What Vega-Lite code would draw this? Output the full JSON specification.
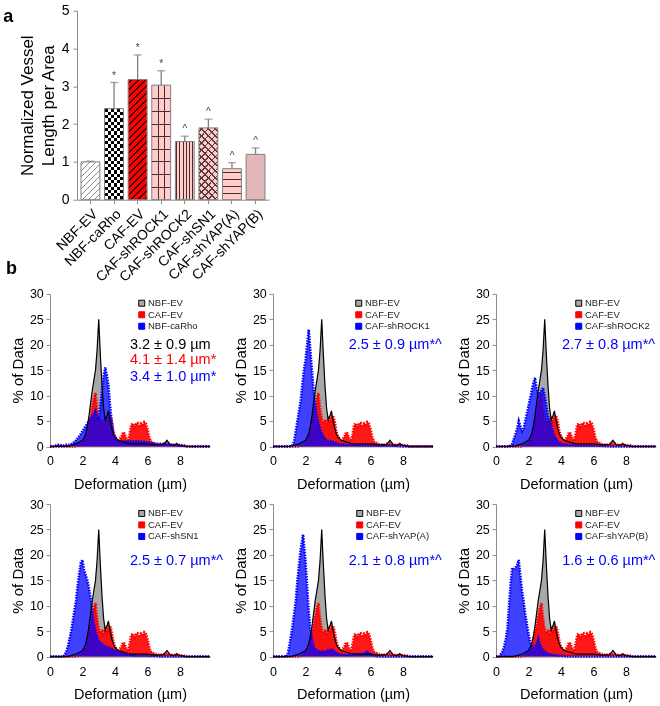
{
"$schema":"https://vega.github.io/schema/vega-lite/v6.json",
"padding":{"left":3,"top":3.7,"right":2,"bottom":0},
"background":"white",
"config":{"font":"Liberation Sans","view":{"stroke":null},"axis":{"grid":false,"labelOverlap":false,"domainColor":"#8c8c8c","tickColor":"#8c8c8c","labelColor":"#000000","titleColor":"#000000","titleFontWeight":"normal"}},
"datasets":{
"bars":[{"g":"NBF-EV","v":1.0,"hi":1.02,"s":""},{"g":"NBF-caRho","v":2.41,"hi":3.1,"s":"*"},{"g":"CAF-EV","v":3.18,"hi":3.83,"s":"*"},{"g":"CAF-shROCK1","v":3.03,"hi":3.41,"s":"*"},{"g":"CAF-shROCK2","v":1.54,"hi":1.68,"s":"^"},{"g":"CAF-shSN1","v":1.9,"hi":2.13,"s":"^"},{"g":"CAF-shYAP(A)","v":0.82,"hi":0.98,"s":"^"},{"g":"CAF-shYAP(B)","v":1.2,"hi":1.37,"s":"^"}],
"nbf":[{"x":0,"y":0},{"x":1,"y":0},{"x":1.2,"y":0.1},{"x":1.4,"y":0.3},{"x":1.6,"y":0.5},{"x":1.8,"y":0.8},{"x":2,"y":1.2},{"x":2.1,"y":1.8},{"x":2.2,"y":2.5},{"x":2.3,"y":4},{"x":2.4,"y":6},{"x":2.5,"y":8.5},{"x":2.6,"y":11},{"x":2.7,"y":13},{"x":2.8,"y":15},{"x":2.9,"y":19},{"x":3,"y":25},{"x":3.1,"y":18},{"x":3.2,"y":12},{"x":3.3,"y":7.5},{"x":3.4,"y":5.2},{"x":3.5,"y":6},{"x":3.6,"y":7},{"x":3.7,"y":5},{"x":3.8,"y":3.5},{"x":3.9,"y":2.5},{"x":4,"y":1.8},{"x":4.2,"y":1.2},{"x":4.4,"y":1},{"x":4.6,"y":0.8},{"x":4.8,"y":0.6},{"x":5,"y":0.5},{"x":5.5,"y":0.5},{"x":6,"y":0.5},{"x":6.5,"y":0.3},{"x":7,"y":0.4},{"x":7.2,"y":1.2},{"x":7.4,"y":0.3},{"x":7.6,"y":0.2},{"x":7.8,"y":0.5},{"x":8,"y":0.2},{"x":8.4,"y":0},{"x":9.85,"y":0}],
"caf":[{"x":0,"y":0},{"x":1.6,"y":0},{"x":1.8,"y":0.3},{"x":2,"y":0.8},{"x":2.1,"y":1.2},{"x":2.2,"y":2},{"x":2.3,"y":3.5},{"x":2.4,"y":5},{"x":2.5,"y":6},{"x":2.6,"y":8},{"x":2.7,"y":9.5},{"x":2.8,"y":10.5},{"x":2.9,"y":7.5},{"x":3,"y":5.5},{"x":3.1,"y":4.5},{"x":3.2,"y":5},{"x":3.3,"y":4.5},{"x":3.4,"y":5.5},{"x":3.5,"y":5},{"x":3.6,"y":6},{"x":3.7,"y":6},{"x":3.8,"y":5},{"x":3.9,"y":3},{"x":4,"y":2},{"x":4.1,"y":1.5},{"x":4.2,"y":1},{"x":4.3,"y":1.5},{"x":4.4,"y":2},{"x":4.5,"y":2.8},{"x":4.6,"y":2.5},{"x":4.7,"y":1.5},{"x":4.8,"y":1},{"x":4.9,"y":2.5},{"x":5,"y":4.3},{"x":5.1,"y":4.5},{"x":5.2,"y":3.8},{"x":5.3,"y":4.5},{"x":5.4,"y":4.6},{"x":5.5,"y":3.8},{"x":5.6,"y":4.5},{"x":5.7,"y":4.2},{"x":5.8,"y":4.8},{"x":5.9,"y":4.5},{"x":6,"y":3.5},{"x":6.1,"y":2},{"x":6.2,"y":1},{"x":6.3,"y":0.8},{"x":6.5,"y":0.5},{"x":6.8,"y":0.3},{"x":7,"y":0.5},{"x":7.2,"y":0.5},{"x":7.4,"y":0.5},{"x":7.6,"y":0.2},{"x":7.8,"y":0.5},{"x":8,"y":0.2},{"x":8.2,"y":0.3},{"x":8.4,"y":0},{"x":9.85,"y":0}],
"var":[
{"n":"NBF-caRho","x":0,"y":0},{"n":"NBF-caRho","x":0.3,"y":0},{"n":"NBF-caRho","x":0.4,"y":0.3},{"n":"NBF-caRho","x":0.6,"y":0.3},{"n":"NBF-caRho","x":0.8,"y":0.2},{"n":"NBF-caRho","x":1,"y":0.3},{"n":"NBF-caRho","x":1.2,"y":0.3},{"n":"NBF-caRho","x":1.4,"y":0.6},{"n":"NBF-caRho","x":1.6,"y":1.2},{"n":"NBF-caRho","x":1.8,"y":2},{"n":"NBF-caRho","x":2,"y":3},{"n":"NBF-caRho","x":2.2,"y":4},{"n":"NBF-caRho","x":2.4,"y":5},{"n":"NBF-caRho","x":2.6,"y":6},{"n":"NBF-caRho","x":2.8,"y":7},{"n":"NBF-caRho","x":2.9,"y":6},{"n":"NBF-caRho","x":3,"y":5},{"n":"NBF-caRho","x":3.1,"y":8},{"n":"NBF-caRho","x":3.2,"y":11},{"n":"NBF-caRho","x":3.3,"y":14},{"n":"NBF-caRho","x":3.4,"y":15.5},{"n":"NBF-caRho","x":3.5,"y":14},{"n":"NBF-caRho","x":3.6,"y":12},{"n":"NBF-caRho","x":3.7,"y":8},{"n":"NBF-caRho","x":3.8,"y":5},{"n":"NBF-caRho","x":3.9,"y":2.5},{"n":"NBF-caRho","x":4,"y":1.5},{"n":"NBF-caRho","x":4.2,"y":1},{"n":"NBF-caRho","x":4.5,"y":1},{"n":"NBF-caRho","x":5,"y":1},{"n":"NBF-caRho","x":5.5,"y":1},{"n":"NBF-caRho","x":6,"y":0.8},{"n":"NBF-caRho","x":6.5,"y":0.5},{"n":"NBF-caRho","x":7,"y":0.5},{"n":"NBF-caRho","x":7.5,"y":0.3},{"n":"NBF-caRho","x":8,"y":0.2},{"n":"NBF-caRho","x":8.5,"y":0},{"n":"NBF-caRho","x":9.85,"y":0},
{"n":"CAF-shROCK1","x":0,"y":0},{"n":"CAF-shROCK1","x":1,"y":0},{"n":"CAF-shROCK1","x":1.2,"y":0.3},{"n":"CAF-shROCK1","x":1.3,"y":1},{"n":"CAF-shROCK1","x":1.4,"y":3},{"n":"CAF-shROCK1","x":1.5,"y":5},{"n":"CAF-shROCK1","x":1.6,"y":7},{"n":"CAF-shROCK1","x":1.7,"y":9},{"n":"CAF-shROCK1","x":1.8,"y":12},{"n":"CAF-shROCK1","x":1.9,"y":15},{"n":"CAF-shROCK1","x":2,"y":17},{"n":"CAF-shROCK1","x":2.1,"y":20},{"n":"CAF-shROCK1","x":2.2,"y":23},{"n":"CAF-shROCK1","x":2.3,"y":19},{"n":"CAF-shROCK1","x":2.4,"y":15},{"n":"CAF-shROCK1","x":2.5,"y":11},{"n":"CAF-shROCK1","x":2.6,"y":8},{"n":"CAF-shROCK1","x":2.7,"y":6},{"n":"CAF-shROCK1","x":2.8,"y":4.5},{"n":"CAF-shROCK1","x":2.9,"y":3.5},{"n":"CAF-shROCK1","x":3,"y":2.5},{"n":"CAF-shROCK1","x":3.2,"y":1.5},{"n":"CAF-shROCK1","x":3.4,"y":1},{"n":"CAF-shROCK1","x":3.6,"y":1},{"n":"CAF-shROCK1","x":3.8,"y":0.8},{"n":"CAF-shROCK1","x":4,"y":0.5},{"n":"CAF-shROCK1","x":4.5,"y":0.3},{"n":"CAF-shROCK1","x":5,"y":0.3},{"n":"CAF-shROCK1","x":6,"y":0.2},{"n":"CAF-shROCK1","x":7,"y":0.2},{"n":"CAF-shROCK1","x":8,"y":0},{"n":"CAF-shROCK1","x":9.85,"y":0},
{"n":"CAF-shROCK2","x":0,"y":0},{"n":"CAF-shROCK2","x":0.8,"y":0},{"n":"CAF-shROCK2","x":1,"y":0.5},{"n":"CAF-shROCK2","x":1.1,"y":1.5},{"n":"CAF-shROCK2","x":1.2,"y":2.5},{"n":"CAF-shROCK2","x":1.3,"y":3.5},{"n":"CAF-shROCK2","x":1.4,"y":5},{"n":"CAF-shROCK2","x":1.5,"y":4},{"n":"CAF-shROCK2","x":1.6,"y":3},{"n":"CAF-shROCK2","x":1.7,"y":3.5},{"n":"CAF-shROCK2","x":1.8,"y":5},{"n":"CAF-shROCK2","x":1.9,"y":6.5},{"n":"CAF-shROCK2","x":2,"y":8},{"n":"CAF-shROCK2","x":2.1,"y":9.5},{"n":"CAF-shROCK2","x":2.2,"y":11},{"n":"CAF-shROCK2","x":2.3,"y":12.5},{"n":"CAF-shROCK2","x":2.4,"y":13.5},{"n":"CAF-shROCK2","x":2.5,"y":11.5},{"n":"CAF-shROCK2","x":2.6,"y":10},{"n":"CAF-shROCK2","x":2.7,"y":10.5},{"n":"CAF-shROCK2","x":2.8,"y":11},{"n":"CAF-shROCK2","x":2.9,"y":11.5},{"n":"CAF-shROCK2","x":3,"y":10},{"n":"CAF-shROCK2","x":3.1,"y":8},{"n":"CAF-shROCK2","x":3.2,"y":6},{"n":"CAF-shROCK2","x":3.3,"y":5},{"n":"CAF-shROCK2","x":3.4,"y":4.5},{"n":"CAF-shROCK2","x":3.5,"y":3},{"n":"CAF-shROCK2","x":3.6,"y":2},{"n":"CAF-shROCK2","x":3.8,"y":1},{"n":"CAF-shROCK2","x":4,"y":0.5},{"n":"CAF-shROCK2","x":4.5,"y":0.3},{"n":"CAF-shROCK2","x":5,"y":0.2},{"n":"CAF-shROCK2","x":6,"y":0.2},{"n":"CAF-shROCK2","x":7,"y":0},{"n":"CAF-shROCK2","x":9.85,"y":0},
{"n":"CAF-shSN1","x":0,"y":0},{"n":"CAF-shSN1","x":0.8,"y":0},{"n":"CAF-shSN1","x":0.9,"y":0.3},{"n":"CAF-shSN1","x":1,"y":1},{"n":"CAF-shSN1","x":1.1,"y":2},{"n":"CAF-shSN1","x":1.2,"y":3.5},{"n":"CAF-shSN1","x":1.3,"y":5},{"n":"CAF-shSN1","x":1.4,"y":7},{"n":"CAF-shSN1","x":1.5,"y":9},{"n":"CAF-shSN1","x":1.6,"y":11},{"n":"CAF-shSN1","x":1.7,"y":14},{"n":"CAF-shSN1","x":1.8,"y":16.5},{"n":"CAF-shSN1","x":1.9,"y":18.5},{"n":"CAF-shSN1","x":2,"y":19},{"n":"CAF-shSN1","x":2.1,"y":17},{"n":"CAF-shSN1","x":2.2,"y":16},{"n":"CAF-shSN1","x":2.3,"y":15},{"n":"CAF-shSN1","x":2.4,"y":13.5},{"n":"CAF-shSN1","x":2.5,"y":11.5},{"n":"CAF-shSN1","x":2.6,"y":9},{"n":"CAF-shSN1","x":2.7,"y":6.5},{"n":"CAF-shSN1","x":2.8,"y":5},{"n":"CAF-shSN1","x":2.9,"y":4},{"n":"CAF-shSN1","x":3,"y":3},{"n":"CAF-shSN1","x":3.2,"y":2.5},{"n":"CAF-shSN1","x":3.4,"y":2},{"n":"CAF-shSN1","x":3.6,"y":1.8},{"n":"CAF-shSN1","x":3.8,"y":1.5},{"n":"CAF-shSN1","x":4,"y":1.2},{"n":"CAF-shSN1","x":4.2,"y":1},{"n":"CAF-shSN1","x":4.4,"y":0.7},{"n":"CAF-shSN1","x":4.6,"y":0.5},{"n":"CAF-shSN1","x":5,"y":0.3},{"n":"CAF-shSN1","x":5.5,"y":0.2},{"n":"CAF-shSN1","x":6,"y":0.2},{"n":"CAF-shSN1","x":7,"y":0},{"n":"CAF-shSN1","x":9.85,"y":0},
{"n":"CAF-shYAP(A)","x":0,"y":0},{"n":"CAF-shYAP(A)","x":0.8,"y":0},{"n":"CAF-shYAP(A)","x":0.9,"y":0.5},{"n":"CAF-shYAP(A)","x":1,"y":2},{"n":"CAF-shYAP(A)","x":1.1,"y":4},{"n":"CAF-shYAP(A)","x":1.2,"y":6},{"n":"CAF-shYAP(A)","x":1.3,"y":8.5},{"n":"CAF-shYAP(A)","x":1.4,"y":11},{"n":"CAF-shYAP(A)","x":1.5,"y":15},{"n":"CAF-shYAP(A)","x":1.6,"y":18},{"n":"CAF-shYAP(A)","x":1.7,"y":21},{"n":"CAF-shYAP(A)","x":1.8,"y":23},{"n":"CAF-shYAP(A)","x":1.85,"y":24},{"n":"CAF-shYAP(A)","x":1.9,"y":22.5},{"n":"CAF-shYAP(A)","x":2,"y":19},{"n":"CAF-shYAP(A)","x":2.1,"y":14},{"n":"CAF-shYAP(A)","x":2.2,"y":9},{"n":"CAF-shYAP(A)","x":2.3,"y":5.5},{"n":"CAF-shYAP(A)","x":2.4,"y":3.5},{"n":"CAF-shYAP(A)","x":2.5,"y":2},{"n":"CAF-shYAP(A)","x":2.6,"y":1.5},{"n":"CAF-shYAP(A)","x":2.8,"y":1},{"n":"CAF-shYAP(A)","x":3,"y":1},{"n":"CAF-shYAP(A)","x":3.2,"y":1},{"n":"CAF-shYAP(A)","x":3.4,"y":1.2},{"n":"CAF-shYAP(A)","x":3.6,"y":1.5},{"n":"CAF-shYAP(A)","x":3.8,"y":1},{"n":"CAF-shYAP(A)","x":4,"y":0.5},{"n":"CAF-shYAP(A)","x":4.5,"y":0.3},{"n":"CAF-shYAP(A)","x":5,"y":0.5},{"n":"CAF-shYAP(A)","x":5.5,"y":0.5},{"n":"CAF-shYAP(A)","x":5.8,"y":1},{"n":"CAF-shYAP(A)","x":6,"y":0.5},{"n":"CAF-shYAP(A)","x":6.2,"y":0.3},{"n":"CAF-shYAP(A)","x":6.5,"y":0},{"n":"CAF-shYAP(A)","x":9.85,"y":0},
{"n":"CAF-shYAP(B)","x":0,"y":0},{"n":"CAF-shYAP(B)","x":0.2,"y":0},{"n":"CAF-shYAP(B)","x":0.3,"y":0.5},{"n":"CAF-shYAP(B)","x":0.4,"y":1},{"n":"CAF-shYAP(B)","x":0.5,"y":2},{"n":"CAF-shYAP(B)","x":0.6,"y":3.5},{"n":"CAF-shYAP(B)","x":0.7,"y":5.5},{"n":"CAF-shYAP(B)","x":0.8,"y":10},{"n":"CAF-shYAP(B)","x":0.9,"y":14.5},{"n":"CAF-shYAP(B)","x":1,"y":17.5},{"n":"CAF-shYAP(B)","x":1.1,"y":17},{"n":"CAF-shYAP(B)","x":1.2,"y":17.5},{"n":"CAF-shYAP(B)","x":1.3,"y":18},{"n":"CAF-shYAP(B)","x":1.4,"y":19},{"n":"CAF-shYAP(B)","x":1.5,"y":16},{"n":"CAF-shYAP(B)","x":1.6,"y":13},{"n":"CAF-shYAP(B)","x":1.7,"y":11},{"n":"CAF-shYAP(B)","x":1.8,"y":8.5},{"n":"CAF-shYAP(B)","x":1.9,"y":6.5},{"n":"CAF-shYAP(B)","x":2,"y":4.5},{"n":"CAF-shYAP(B)","x":2.1,"y":3},{"n":"CAF-shYAP(B)","x":2.2,"y":2},{"n":"CAF-shYAP(B)","x":2.3,"y":1.8},{"n":"CAF-shYAP(B)","x":2.4,"y":2},{"n":"CAF-shYAP(B)","x":2.5,"y":2.5},{"n":"CAF-shYAP(B)","x":2.6,"y":3.5},{"n":"CAF-shYAP(B)","x":2.7,"y":2.5},{"n":"CAF-shYAP(B)","x":2.8,"y":1.8},{"n":"CAF-shYAP(B)","x":2.9,"y":1.2},{"n":"CAF-shYAP(B)","x":3,"y":1},{"n":"CAF-shYAP(B)","x":3.2,"y":0.6},{"n":"CAF-shYAP(B)","x":3.4,"y":0.4},{"n":"CAF-shYAP(B)","x":3.6,"y":0.3},{"n":"CAF-shYAP(B)","x":4,"y":0.2},{"n":"CAF-shYAP(B)","x":4.5,"y":0},{"n":"CAF-shYAP(B)","x":9.85,"y":0}
]},
"bounds":"flush",
"align":"each",
"columns":3,
"spacing":{"row":57.2,"column":63},
"resolve":{"scale":{"fill":"independent"},"legend":{"fill":"independent"}},
"concat":[
 {"width":160,"height":189,
  "title":{"text":"a","anchor":"start","frame":"group","dx":-46.7,"dy":22.6,"offset":0,"fontSize":18,"fontWeight":"bold","color":"#000000"},
  "data":{"name":"bars"},
  "encoding":{"x":{"field":"g","type":"nominal","sort":null,"scale":{"range":[27,219],"paddingInner":0.2,"paddingOuter":0.17},"axis":{"title":null,"labelAngle":-45,"labelFontSize":14,"tickSize":4,"labelPadding":3,"labelOverlap":false}}},
  "layer":[
   {"mark":{"type":"bar","strokeWidth":0},"encoding":{"y":{"field":"v","type":"quantitative","scale":{"domain":[0,5],"nice":false},"axis":{"offset":-27,"values":[0,1,2,3,4,5],"format":"d","tickCount":12,"labelOverlap":false,"title":["Normalized Vessel","Length per Area"],"titleFontSize":17,"titleLineHeight":21,"labelFontSize":14,"tickSize":4,"labelPadding":4,"titlePadding":4}},
    "fill":{"condition":[
     {"test":"datum.g === 'NBF-EV'","value":{"gradient":"linear","x1":0,"y1":0,"x2":0.605,"y2":1.2,"stops":[{"offset":0,"color":"#ffffff"},{"offset":0.0409,"color":"#ffffff"},{"offset":0.0409,"color":"#8c8c8c"},{"offset":0.0649,"color":"#8c8c8c"},{"offset":0.0649,"color":"#ffffff"},{"offset":0.1467,"color":"#ffffff"},{"offset":0.1467,"color":"#8c8c8c"},{"offset":0.1707,"color":"#8c8c8c"},{"offset":0.1707,"color":"#ffffff"},{"offset":0.2526,"color":"#ffffff"},{"offset":0.2526,"color":"#8c8c8c"},{"offset":0.2766,"color":"#8c8c8c"},{"offset":0.2766,"color":"#ffffff"},{"offset":0.3584,"color":"#ffffff"},{"offset":0.3584,"color":"#8c8c8c"},{"offset":0.3824,"color":"#8c8c8c"},{"offset":0.3824,"color":"#ffffff"},{"offset":0.4642,"color":"#ffffff"},{"offset":0.4642,"color":"#8c8c8c"},{"offset":0.4882,"color":"#8c8c8c"},{"offset":0.4882,"color":"#ffffff"},{"offset":0.57,"color":"#ffffff"},{"offset":0.57,"color":"#8c8c8c"},{"offset":0.594,"color":"#8c8c8c"},{"offset":0.594,"color":"#ffffff"},{"offset":0.6758,"color":"#ffffff"},{"offset":0.6758,"color":"#8c8c8c"},{"offset":0.6998,"color":"#8c8c8c"},{"offset":0.6998,"color":"#ffffff"},{"offset":0.7817,"color":"#ffffff"},{"offset":0.7817,"color":"#8c8c8c"},{"offset":0.8057,"color":"#8c8c8c"},{"offset":0.8057,"color":"#ffffff"},{"offset":0.8875,"color":"#ffffff"},{"offset":0.8875,"color":"#8c8c8c"},{"offset":0.9115,"color":"#8c8c8c"},{"offset":0.9115,"color":"#ffffff"},{"offset":1,"color":"#ffffff"}]}},
     {"test":"datum.g === 'NBF-caRho'","value":{"gradient":"linear","x1":0,"y1":0,"x2":1,"y2":0,"stops":[{"offset":0,"color":"#000000"},{"offset":0.1667,"color":"#000000"},{"offset":0.1667,"color":"#ffffff"},{"offset":0.3333,"color":"#ffffff"},{"offset":0.3333,"color":"#000000"},{"offset":0.5,"color":"#000000"},{"offset":0.5,"color":"#ffffff"},{"offset":0.6667,"color":"#ffffff"},{"offset":0.6667,"color":"#000000"},{"offset":0.8333,"color":"#000000"},{"offset":0.8333,"color":"#ffffff"},{"offset":1,"color":"#ffffff"}]}},
     {"test":"datum.g === 'CAF-EV'","value":{"gradient":"linear","x1":0,"y1":0,"x2":0.179,"y2":1.13,"stops":[{"offset":0,"color":"#ff0000"},{"offset":0.018,"color":"#ff0000"},{"offset":0.018,"color":"#300000"},{"offset":0.032,"color":"#300000"},{"offset":0.032,"color":"#ff0000"},{"offset":0.068,"color":"#ff0000"},{"offset":0.068,"color":"#300000"},{"offset":0.083,"color":"#300000"},{"offset":0.083,"color":"#ff0000"},{"offset":0.119,"color":"#ff0000"},{"offset":0.119,"color":"#300000"},{"offset":0.133,"color":"#300000"},{"offset":0.133,"color":"#ff0000"},{"offset":0.169,"color":"#ff0000"},{"offset":0.169,"color":"#300000"},{"offset":0.184,"color":"#300000"},{"offset":0.184,"color":"#ff0000"},{"offset":0.219,"color":"#ff0000"},{"offset":0.219,"color":"#300000"},{"offset":0.234,"color":"#300000"},{"offset":0.234,"color":"#ff0000"},{"offset":0.27,"color":"#ff0000"},{"offset":0.27,"color":"#300000"},{"offset":0.284,"color":"#300000"},{"offset":0.284,"color":"#ff0000"},{"offset":0.32,"color":"#ff0000"},{"offset":0.32,"color":"#300000"},{"offset":0.335,"color":"#300000"},{"offset":0.335,"color":"#ff0000"},{"offset":0.371,"color":"#ff0000"},{"offset":0.371,"color":"#300000"},{"offset":0.385,"color":"#300000"},{"offset":0.385,"color":"#ff0000"},{"offset":0.421,"color":"#ff0000"},{"offset":0.421,"color":"#300000"},{"offset":0.435,"color":"#300000"},{"offset":0.435,"color":"#ff0000"},{"offset":0.471,"color":"#ff0000"},{"offset":0.471,"color":"#300000"},{"offset":0.486,"color":"#300000"},{"offset":0.486,"color":"#ff0000"},{"offset":0.522,"color":"#ff0000"},{"offset":0.522,"color":"#300000"},{"offset":0.536,"color":"#300000"},{"offset":0.536,"color":"#ff0000"},{"offset":0.572,"color":"#ff0000"},{"offset":0.572,"color":"#300000"},{"offset":0.586,"color":"#300000"},{"offset":0.586,"color":"#ff0000"},{"offset":0.622,"color":"#ff0000"},{"offset":0.622,"color":"#300000"},{"offset":0.637,"color":"#300000"},{"offset":0.637,"color":"#ff0000"},{"offset":0.673,"color":"#ff0000"},{"offset":0.673,"color":"#300000"},{"offset":0.687,"color":"#300000"},{"offset":0.687,"color":"#ff0000"},{"offset":0.723,"color":"#ff0000"},{"offset":0.723,"color":"#300000"},{"offset":0.737,"color":"#300000"},{"offset":0.737,"color":"#ff0000"},{"offset":0.773,"color":"#ff0000"},{"offset":0.773,"color":"#300000"},{"offset":0.788,"color":"#300000"},{"offset":0.788,"color":"#ff0000"},{"offset":0.824,"color":"#ff0000"},{"offset":0.824,"color":"#300000"},{"offset":0.838,"color":"#300000"},{"offset":0.838,"color":"#ff0000"},{"offset":0.874,"color":"#ff0000"},{"offset":0.874,"color":"#300000"},{"offset":0.889,"color":"#300000"},{"offset":0.889,"color":"#ff0000"},{"offset":0.924,"color":"#ff0000"},{"offset":0.924,"color":"#300000"},{"offset":0.939,"color":"#300000"},{"offset":0.939,"color":"#ff0000"},{"offset":0.975,"color":"#ff0000"},{"offset":0.975,"color":"#300000"},{"offset":0.989,"color":"#300000"},{"offset":0.989,"color":"#ff0000"},{"offset":1,"color":"#ff0000"}]}},
     {"test":"datum.g === 'CAF-shROCK1'","value":{"gradient":"linear","x1":0,"y1":0,"x2":0,"y2":1,"stops":[{"offset":0,"color":"#ffcccc"},{"offset":0.115,"color":"#ffcccc"},{"offset":0.115,"color":"#4d2b2b"},{"offset":0.125,"color":"#4d2b2b"},{"offset":0.125,"color":"#ffcccc"},{"offset":0.225,"color":"#ffcccc"},{"offset":0.225,"color":"#4d2b2b"},{"offset":0.235,"color":"#4d2b2b"},{"offset":0.235,"color":"#ffcccc"},{"offset":0.335,"color":"#ffcccc"},{"offset":0.335,"color":"#4d2b2b"},{"offset":0.345,"color":"#4d2b2b"},{"offset":0.345,"color":"#ffcccc"},{"offset":0.445,"color":"#ffcccc"},{"offset":0.445,"color":"#4d2b2b"},{"offset":0.455,"color":"#4d2b2b"},{"offset":0.455,"color":"#ffcccc"},{"offset":0.555,"color":"#ffcccc"},{"offset":0.555,"color":"#4d2b2b"},{"offset":0.565,"color":"#4d2b2b"},{"offset":0.565,"color":"#ffcccc"},{"offset":0.665,"color":"#ffcccc"},{"offset":0.665,"color":"#4d2b2b"},{"offset":0.675,"color":"#4d2b2b"},{"offset":0.675,"color":"#ffcccc"},{"offset":0.775,"color":"#ffcccc"},{"offset":0.775,"color":"#4d2b2b"},{"offset":0.785,"color":"#4d2b2b"},{"offset":0.785,"color":"#ffcccc"},{"offset":0.885,"color":"#ffcccc"},{"offset":0.885,"color":"#4d2b2b"},{"offset":0.895,"color":"#4d2b2b"},{"offset":0.895,"color":"#ffcccc"},{"offset":1,"color":"#ffcccc"}]}},
     {"test":"datum.g === 'CAF-shROCK2'","value":{"gradient":"linear","x1":0,"y1":0,"x2":1,"y2":0,"stops":[{"offset":0,"color":"#ffcccc"},{"offset":0.048,"color":"#ffcccc"},{"offset":0.048,"color":"#4d2b2b"},{"offset":0.092,"color":"#4d2b2b"},{"offset":0.092,"color":"#ffcccc"},{"offset":0.218,"color":"#ffcccc"},{"offset":0.218,"color":"#4d2b2b"},{"offset":0.262,"color":"#4d2b2b"},{"offset":0.262,"color":"#ffcccc"},{"offset":0.388,"color":"#ffcccc"},{"offset":0.388,"color":"#4d2b2b"},{"offset":0.432,"color":"#4d2b2b"},{"offset":0.432,"color":"#ffcccc"},{"offset":0.558,"color":"#ffcccc"},{"offset":0.558,"color":"#4d2b2b"},{"offset":0.602,"color":"#4d2b2b"},{"offset":0.602,"color":"#ffcccc"},{"offset":0.728,"color":"#ffcccc"},{"offset":0.728,"color":"#4d2b2b"},{"offset":0.772,"color":"#4d2b2b"},{"offset":0.772,"color":"#ffcccc"},{"offset":0.898,"color":"#ffcccc"},{"offset":0.898,"color":"#4d2b2b"},{"offset":0.942,"color":"#4d2b2b"},{"offset":0.942,"color":"#ffcccc"},{"offset":1,"color":"#ffcccc"}]}},
     {"test":"datum.g === 'CAF-shSN1'","value":{"gradient":"linear","x1":0,"y1":0,"x2":0.314,"y2":1.18,"stops":[{"offset":0,"color":"#ffcccc"},{"offset":0.0306,"color":"#ffcccc"},{"offset":0.0306,"color":"#5a3a3a"},{"offset":0.0466,"color":"#5a3a3a"},{"offset":0.0466,"color":"#ffcccc"},{"offset":0.1079,"color":"#ffcccc"},{"offset":0.1079,"color":"#5a3a3a"},{"offset":0.1239,"color":"#5a3a3a"},{"offset":0.1239,"color":"#ffcccc"},{"offset":0.1852,"color":"#ffcccc"},{"offset":0.1852,"color":"#5a3a3a"},{"offset":0.2012,"color":"#5a3a3a"},{"offset":0.2012,"color":"#ffcccc"},{"offset":0.2624,"color":"#ffcccc"},{"offset":0.2624,"color":"#5a3a3a"},{"offset":0.2784,"color":"#5a3a3a"},{"offset":0.2784,"color":"#ffcccc"},{"offset":0.3397,"color":"#ffcccc"},{"offset":0.3397,"color":"#5a3a3a"},{"offset":0.3557,"color":"#5a3a3a"},{"offset":0.3557,"color":"#ffcccc"},{"offset":0.417,"color":"#ffcccc"},{"offset":0.417,"color":"#5a3a3a"},{"offset":0.433,"color":"#5a3a3a"},{"offset":0.433,"color":"#ffcccc"},{"offset":0.4942,"color":"#ffcccc"},{"offset":0.4942,"color":"#5a3a3a"},{"offset":0.5102,"color":"#5a3a3a"},{"offset":0.5102,"color":"#ffcccc"},{"offset":0.5715,"color":"#ffcccc"},{"offset":0.5715,"color":"#5a3a3a"},{"offset":0.5875,"color":"#5a3a3a"},{"offset":0.5875,"color":"#ffcccc"},{"offset":0.6487,"color":"#ffcccc"},{"offset":0.6487,"color":"#5a3a3a"},{"offset":0.6647,"color":"#5a3a3a"},{"offset":0.6647,"color":"#ffcccc"},{"offset":0.726,"color":"#ffcccc"},{"offset":0.726,"color":"#5a3a3a"},{"offset":0.742,"color":"#5a3a3a"},{"offset":0.742,"color":"#ffcccc"},{"offset":0.8033,"color":"#ffcccc"},{"offset":0.8033,"color":"#5a3a3a"},{"offset":0.8193,"color":"#5a3a3a"},{"offset":0.8193,"color":"#ffcccc"},{"offset":0.8805,"color":"#ffcccc"},{"offset":0.8805,"color":"#5a3a3a"},{"offset":0.8965,"color":"#5a3a3a"},{"offset":0.8965,"color":"#ffcccc"},{"offset":0.9578,"color":"#ffcccc"},{"offset":0.9578,"color":"#5a3a3a"},{"offset":0.9738,"color":"#5a3a3a"},{"offset":0.9738,"color":"#ffcccc"},{"offset":1,"color":"#ffcccc"}]}},
     {"test":"datum.g === 'CAF-shYAP(A)'","value":{"gradient":"linear","x1":0,"y1":0,"x2":0,"y2":1,"stops":[{"offset":0,"color":"#ffcccc"},{"offset":0.114,"color":"#ffcccc"},{"offset":0.114,"color":"#4d2b2b"},{"offset":0.146,"color":"#4d2b2b"},{"offset":0.146,"color":"#ffcccc"},{"offset":0.324,"color":"#ffcccc"},{"offset":0.324,"color":"#4d2b2b"},{"offset":0.356,"color":"#4d2b2b"},{"offset":0.356,"color":"#ffcccc"},{"offset":0.544,"color":"#ffcccc"},{"offset":0.544,"color":"#4d2b2b"},{"offset":0.576,"color":"#4d2b2b"},{"offset":0.576,"color":"#ffcccc"},{"offset":0.784,"color":"#ffcccc"},{"offset":0.784,"color":"#4d2b2b"},{"offset":0.816,"color":"#4d2b2b"},{"offset":0.816,"color":"#ffcccc"},{"offset":1,"color":"#ffcccc"}]}},
     {"test":"datum.g === 'CAF-shYAP(B)'","value":"#e3b6ba"}
    ],"value":"#ffcccc"}}},
   {"transform":[{"filter":"datum.g === 'NBF-caRho'"}],"mark":{"type":"bar","strokeWidth":0,"blend":"difference"},"encoding":{"y":{"field":"v","type":"quantitative"},
    "fill":{"value":{"gradient":"linear","x1":0,"y1":0,"x2":0,"y2":1,"stops":[{"offset":0,"color":"rgba(0,0,0,0)"},{"offset":0.0357,"color":"rgba(0,0,0,0)"},{"offset":0.0357,"color":"#ffffff"},{"offset":0.0714,"color":"#ffffff"},{"offset":0.0714,"color":"rgba(0,0,0,0)"},{"offset":0.1071,"color":"rgba(0,0,0,0)"},{"offset":0.1071,"color":"#ffffff"},{"offset":0.1429,"color":"#ffffff"},{"offset":0.1429,"color":"rgba(0,0,0,0)"},{"offset":0.1786,"color":"rgba(0,0,0,0)"},{"offset":0.1786,"color":"#ffffff"},{"offset":0.2143,"color":"#ffffff"},{"offset":0.2143,"color":"rgba(0,0,0,0)"},{"offset":0.25,"color":"rgba(0,0,0,0)"},{"offset":0.25,"color":"#ffffff"},{"offset":0.2857,"color":"#ffffff"},{"offset":0.2857,"color":"rgba(0,0,0,0)"},{"offset":0.3214,"color":"rgba(0,0,0,0)"},{"offset":0.3214,"color":"#ffffff"},{"offset":0.3571,"color":"#ffffff"},{"offset":0.3571,"color":"rgba(0,0,0,0)"},{"offset":0.3929,"color":"rgba(0,0,0,0)"},{"offset":0.3929,"color":"#ffffff"},{"offset":0.4286,"color":"#ffffff"},{"offset":0.4286,"color":"rgba(0,0,0,0)"},{"offset":0.4643,"color":"rgba(0,0,0,0)"},{"offset":0.4643,"color":"#ffffff"},{"offset":0.5,"color":"#ffffff"},{"offset":0.5,"color":"rgba(0,0,0,0)"},{"offset":0.5357,"color":"rgba(0,0,0,0)"},{"offset":0.5357,"color":"#ffffff"},{"offset":0.5714,"color":"#ffffff"},{"offset":0.5714,"color":"rgba(0,0,0,0)"},{"offset":0.6071,"color":"rgba(0,0,0,0)"},{"offset":0.6071,"color":"#ffffff"},{"offset":0.6429,"color":"#ffffff"},{"offset":0.6429,"color":"rgba(0,0,0,0)"},{"offset":0.6786,"color":"rgba(0,0,0,0)"},{"offset":0.6786,"color":"#ffffff"},{"offset":0.7143,"color":"#ffffff"},{"offset":0.7143,"color":"rgba(0,0,0,0)"},{"offset":0.75,"color":"rgba(0,0,0,0)"},{"offset":0.75,"color":"#ffffff"},{"offset":0.7857,"color":"#ffffff"},{"offset":0.7857,"color":"rgba(0,0,0,0)"},{"offset":0.8214,"color":"rgba(0,0,0,0)"},{"offset":0.8214,"color":"#ffffff"},{"offset":0.8571,"color":"#ffffff"},{"offset":0.8571,"color":"rgba(0,0,0,0)"},{"offset":0.8929,"color":"rgba(0,0,0,0)"},{"offset":0.8929,"color":"#ffffff"},{"offset":0.9286,"color":"#ffffff"},{"offset":0.9286,"color":"rgba(0,0,0,0)"},{"offset":0.9643,"color":"rgba(0,0,0,0)"},{"offset":0.9643,"color":"#ffffff"},{"offset":1,"color":"#ffffff"}]}}}},
   {"mark":{"type":"bar","stroke":"#7f7f7f","strokeWidth":1},"encoding":{"y":{"field":"v","type":"quantitative"},
    "fill":{"condition":[
     {"test":"datum.g === 'CAF-shROCK1'","value":{"gradient":"linear","x1":0,"y1":0,"x2":1,"y2":0,"stops":[{"offset":0,"color":"rgba(0,0,0,0)"},{"offset":0.305,"color":"rgba(0,0,0,0)"},{"offset":0.305,"color":"#4d2b2b"},{"offset":0.36,"color":"#4d2b2b"},{"offset":0.36,"color":"rgba(0,0,0,0)"},{"offset":0.635,"color":"rgba(0,0,0,0)"},{"offset":0.635,"color":"#4d2b2b"},{"offset":0.69,"color":"#4d2b2b"},{"offset":0.69,"color":"rgba(0,0,0,0)"},{"offset":1,"color":"rgba(0,0,0,0)"}]}},
     {"test":"datum.g === 'CAF-shSN1'","value":{"gradient":"linear","x1":1,"y1":0,"x2":0.686,"y2":1.18,"stops":[{"offset":0,"color":"rgba(0,0,0,0)"},{"offset":0.0306,"color":"rgba(0,0,0,0)"},{"offset":0.0306,"color":"#5a3a3a"},{"offset":0.0466,"color":"#5a3a3a"},{"offset":0.0466,"color":"rgba(0,0,0,0)"},{"offset":0.1079,"color":"rgba(0,0,0,0)"},{"offset":0.1079,"color":"#5a3a3a"},{"offset":0.1239,"color":"#5a3a3a"},{"offset":0.1239,"color":"rgba(0,0,0,0)"},{"offset":0.1852,"color":"rgba(0,0,0,0)"},{"offset":0.1852,"color":"#5a3a3a"},{"offset":0.2012,"color":"#5a3a3a"},{"offset":0.2012,"color":"rgba(0,0,0,0)"},{"offset":0.2624,"color":"rgba(0,0,0,0)"},{"offset":0.2624,"color":"#5a3a3a"},{"offset":0.2784,"color":"#5a3a3a"},{"offset":0.2784,"color":"rgba(0,0,0,0)"},{"offset":0.3397,"color":"rgba(0,0,0,0)"},{"offset":0.3397,"color":"#5a3a3a"},{"offset":0.3557,"color":"#5a3a3a"},{"offset":0.3557,"color":"rgba(0,0,0,0)"},{"offset":0.417,"color":"rgba(0,0,0,0)"},{"offset":0.417,"color":"#5a3a3a"},{"offset":0.433,"color":"#5a3a3a"},{"offset":0.433,"color":"rgba(0,0,0,0)"},{"offset":0.4942,"color":"rgba(0,0,0,0)"},{"offset":0.4942,"color":"#5a3a3a"},{"offset":0.5102,"color":"#5a3a3a"},{"offset":0.5102,"color":"rgba(0,0,0,0)"},{"offset":0.5715,"color":"rgba(0,0,0,0)"},{"offset":0.5715,"color":"#5a3a3a"},{"offset":0.5875,"color":"#5a3a3a"},{"offset":0.5875,"color":"rgba(0,0,0,0)"},{"offset":0.6487,"color":"rgba(0,0,0,0)"},{"offset":0.6487,"color":"#5a3a3a"},{"offset":0.6647,"color":"#5a3a3a"},{"offset":0.6647,"color":"rgba(0,0,0,0)"},{"offset":0.726,"color":"rgba(0,0,0,0)"},{"offset":0.726,"color":"#5a3a3a"},{"offset":0.742,"color":"#5a3a3a"},{"offset":0.742,"color":"rgba(0,0,0,0)"},{"offset":0.8033,"color":"rgba(0,0,0,0)"},{"offset":0.8033,"color":"#5a3a3a"},{"offset":0.8193,"color":"#5a3a3a"},{"offset":0.8193,"color":"rgba(0,0,0,0)"},{"offset":0.8805,"color":"rgba(0,0,0,0)"},{"offset":0.8805,"color":"#5a3a3a"},{"offset":0.8965,"color":"#5a3a3a"},{"offset":0.8965,"color":"rgba(0,0,0,0)"},{"offset":0.9578,"color":"rgba(0,0,0,0)"},{"offset":0.9578,"color":"#5a3a3a"},{"offset":0.9738,"color":"#5a3a3a"},{"offset":0.9738,"color":"rgba(0,0,0,0)"},{"offset":1,"color":"rgba(0,0,0,0)"}]}}
    ],"value":"rgba(0,0,0,0)"}}},
   {"mark":{"type":"rule","color":"#7f7f7f","strokeWidth":1.3},"encoding":{"y":{"field":"v","type":"quantitative"},"y2":{"field":"hi"}}},
   {"mark":{"type":"tick","color":"#7f7f7f","size":8,"thickness":1.3},"encoding":{"y":{"field":"hi","type":"quantitative"}}},
   {"mark":{"type":"text","dy":-4,"baseline":"alphabetic","fontSize":10,"color":"#404040"},"encoding":{"y":{"field":"hi","type":"quantitative"},"text":{"field":"s"}}}
  ]},
 {"width":1,"height":225.4,"data":{"values":[]},"mark":"point"},
 {"width":1,"height":1,"data":{"values":[]},"mark":"point"},
 {"width":160,"height":152.5,
   "title":{"text":"b","anchor":"start","frame":"group","dx":-44,"dy":-10,"offset":0,"fontSize":18,"fontWeight":"bold","color":"#000000"},
   "layer":[
   {"data":{"name":"nbf"},"mark":{"type":"area","fillOpacity":1},"encoding":{"x":{"field":"x","type":"quantitative","scale":{"domain":[0,9.85],"nice":false,"zero":false},"axis":{"values":[0,2,4,6,8],"tickCount":12,"labelOverlap":false,"title":"Deformation (µm)","titleFontSize":14.5,"labelFontSize":12.5,"ticks":false,"labelPadding":8.5,"titlePadding":10,"labelFlush":false}},"y":{"field":"y","type":"quantitative","scale":{"domain":[0,30],"nice":false},"axis":{"values":[0,5,10,15,20,25,30],"tickCount":12,"labelOverlap":false,"title":"% of Data","titleFontSize":15,"labelFontSize":12.5,"tickSize":4,"labelPadding":2.7,"titlePadding":4,"labelFlush":false}},"fill":{"datum":"NBF-EV","type":"nominal","scale":{"domain":["NBF-EV","CAF-EV","NBF-caRho"],"range":["#a8a8a8","#ff0000","#0000ff"]},"legend":{"orient":"none","legendX":87,"legendY":4.6,"title":null,"labelFontSize":9.5,"labelColor":"#222222","symbolType":"square","symbolSize":36,"symbolStrokeWidth":1,"symbolOpacity":1,"rowPadding":0.5,"labelOffset":1.5,"padding":0,"encode":{"symbols":{"update":{"stroke":{"signal":"datum.value === 'NBF-EV' ? '#000000' : datum.value === 'CAF-EV' ? '#ff0000' : '#0000ff'"},"fillOpacity":{"value":1}}}}}}}},
   {"data":{"name":"caf"},"mark":{"type":"area","fillOpacity":0.9},"encoding":{"x":{"field":"x","type":"quantitative"},"y":{"field":"y","type":"quantitative"},"fill":{"datum":"CAF-EV","type":"nominal"}}},
   {"data":{"name":"caf"},"mark":{"type":"line","stroke":"#ff0000","strokeWidth":2.5,"strokeDash":[1.5,1.2]},"encoding":{"x":{"field":"x","type":"quantitative"},"y":{"field":"y","type":"quantitative"}}},
   {"data":{"name":"var"},"transform":[{"filter":"datum.n === 'NBF-caRho'"}],"mark":{"type":"area","fillOpacity":0.75},"encoding":{"x":{"field":"x","type":"quantitative"},"y":{"field":"y","type":"quantitative"},"fill":{"datum":"NBF-caRho","type":"nominal"}}},
   {"data":{"name":"var"},"transform":[{"filter":"datum.n === 'NBF-caRho'"}],"mark":{"type":"line","stroke":"#0000ff","strokeWidth":2.5,"strokeDash":[1.5,1.2]},"encoding":{"x":{"field":"x","type":"quantitative"},"y":{"field":"y","type":"quantitative"}}},
   {"data":{"name":"nbf"},"mark":{"type":"line","stroke":"#000000","strokeWidth":1.2},"encoding":{"x":{"field":"x","type":"quantitative"},"y":{"field":"y","type":"quantitative"}}},
   {"data":{"values":[{"t":"3.2 ± 0.9 µm"}]},"mark":{"type":"text","align":"left","baseline":"middle","fontSize":14.5,"color":"#000000"},"encoding":{"x":{"datum":4.92,"type":"quantitative"},"y":{"datum":20,"type":"quantitative"},"text":{"field":"t"}}},
   {"data":{"values":[{"t":"4.1 ± 1.4 µm*"}]},"mark":{"type":"text","align":"left","baseline":"middle","fontSize":14.5,"color":"#ff0000"},"encoding":{"x":{"datum":4.92,"type":"quantitative"},"y":{"datum":16.9,"type":"quantitative"},"text":{"field":"t"}}},
   {"data":{"values":[{"t":"3.4 ± 1.0 µm*"}]},"mark":{"type":"text","align":"left","baseline":"middle","fontSize":14.5,"color":"#0000ff"},"encoding":{"x":{"datum":4.92,"type":"quantitative"},"y":{"datum":13.6,"type":"quantitative"},"text":{"field":"t"}}}
  ]},
 {"width":160,"height":152.5,"layer":[
   {"data":{"name":"nbf"},"mark":{"type":"area","fillOpacity":1},"encoding":{"x":{"field":"x","type":"quantitative","scale":{"domain":[0,9.85],"nice":false,"zero":false},"axis":{"values":[0,2,4,6,8],"tickCount":12,"labelOverlap":false,"title":"Deformation (µm)","titleFontSize":14.5,"labelFontSize":12.5,"ticks":false,"labelPadding":8.5,"titlePadding":10,"labelFlush":false}},"y":{"field":"y","type":"quantitative","scale":{"domain":[0,30],"nice":false},"axis":{"values":[0,5,10,15,20,25,30],"tickCount":12,"labelOverlap":false,"title":"% of Data","titleFontSize":15,"labelFontSize":12.5,"tickSize":4,"labelPadding":2.7,"titlePadding":4,"labelFlush":false}},"fill":{"datum":"NBF-EV","type":"nominal","scale":{"domain":["NBF-EV","CAF-EV","CAF-shROCK1"],"range":["#a8a8a8","#ff0000","#0000ff"]},"legend":{"orient":"none","legendX":81,"legendY":4.6,"title":null,"labelFontSize":9.5,"labelColor":"#222222","symbolType":"square","symbolSize":36,"symbolStrokeWidth":1,"symbolOpacity":1,"rowPadding":0.5,"labelOffset":1.5,"padding":0,"encode":{"symbols":{"update":{"stroke":{"signal":"datum.value === 'NBF-EV' ? '#000000' : datum.value === 'CAF-EV' ? '#ff0000' : '#0000ff'"},"fillOpacity":{"value":1}}}}}}}},
   {"data":{"name":"caf"},"mark":{"type":"area","fillOpacity":0.9},"encoding":{"x":{"field":"x","type":"quantitative"},"y":{"field":"y","type":"quantitative"},"fill":{"datum":"CAF-EV","type":"nominal"}}},
   {"data":{"name":"caf"},"mark":{"type":"line","stroke":"#ff0000","strokeWidth":2.5,"strokeDash":[1.5,1.2]},"encoding":{"x":{"field":"x","type":"quantitative"},"y":{"field":"y","type":"quantitative"}}},
   {"data":{"name":"var"},"transform":[{"filter":"datum.n === 'CAF-shROCK1'"}],"mark":{"type":"area","fillOpacity":0.75},"encoding":{"x":{"field":"x","type":"quantitative"},"y":{"field":"y","type":"quantitative"},"fill":{"datum":"CAF-shROCK1","type":"nominal"}}},
   {"data":{"name":"var"},"transform":[{"filter":"datum.n === 'CAF-shROCK1'"}],"mark":{"type":"line","stroke":"#0000ff","strokeWidth":2.5,"strokeDash":[1.5,1.2]},"encoding":{"x":{"field":"x","type":"quantitative"},"y":{"field":"y","type":"quantitative"}}},
   {"data":{"name":"nbf"},"mark":{"type":"line","stroke":"#000000","strokeWidth":1.2},"encoding":{"x":{"field":"x","type":"quantitative"},"y":{"field":"y","type":"quantitative"}}},
   {"data":{"values":[{"t":"2.5 ± 0.9 µm*^"}]},"mark":{"type":"text","align":"left","baseline":"middle","fontSize":14.5,"color":"#0000ff"},"encoding":{"x":{"datum":4.66,"type":"quantitative"},"y":{"datum":20,"type":"quantitative"},"text":{"field":"t"}}}
 ]},
 {"width":160,"height":152.5,"layer":[
   {"data":{"name":"nbf"},"mark":{"type":"area","fillOpacity":1},"encoding":{"x":{"field":"x","type":"quantitative","scale":{"domain":[0,9.85],"nice":false,"zero":false},"axis":{"values":[0,2,4,6,8],"tickCount":12,"labelOverlap":false,"title":"Deformation (µm)","titleFontSize":14.5,"labelFontSize":12.5,"ticks":false,"labelPadding":8.5,"titlePadding":10,"labelFlush":false}},"y":{"field":"y","type":"quantitative","scale":{"domain":[0,30],"nice":false},"axis":{"values":[0,5,10,15,20,25,30],"tickCount":12,"labelOverlap":false,"title":"% of Data","titleFontSize":15,"labelFontSize":12.5,"tickSize":4,"labelPadding":2.7,"titlePadding":4,"labelFlush":false}},"fill":{"datum":"NBF-EV","type":"nominal","scale":{"domain":["NBF-EV","CAF-EV","CAF-shROCK2"],"range":["#a8a8a8","#ff0000","#0000ff"]},"legend":{"orient":"none","legendX":78,"legendY":4.6,"title":null,"labelFontSize":9.5,"labelColor":"#222222","symbolType":"square","symbolSize":36,"symbolStrokeWidth":1,"symbolOpacity":1,"rowPadding":0.5,"labelOffset":1.5,"padding":0,"encode":{"symbols":{"update":{"stroke":{"signal":"datum.value === 'NBF-EV' ? '#000000' : datum.value === 'CAF-EV' ? '#ff0000' : '#0000ff'"},"fillOpacity":{"value":1}}}}}}}},
   {"data":{"name":"caf"},"mark":{"type":"area","fillOpacity":0.9},"encoding":{"x":{"field":"x","type":"quantitative"},"y":{"field":"y","type":"quantitative"},"fill":{"datum":"CAF-EV","type":"nominal"}}},
   {"data":{"name":"caf"},"mark":{"type":"line","stroke":"#ff0000","strokeWidth":2.5,"strokeDash":[1.5,1.2]},"encoding":{"x":{"field":"x","type":"quantitative"},"y":{"field":"y","type":"quantitative"}}},
   {"data":{"name":"var"},"transform":[{"filter":"datum.n === 'CAF-shROCK2'"}],"mark":{"type":"area","fillOpacity":0.75},"encoding":{"x":{"field":"x","type":"quantitative"},"y":{"field":"y","type":"quantitative"},"fill":{"datum":"CAF-shROCK2","type":"nominal"}}},
   {"data":{"name":"var"},"transform":[{"filter":"datum.n === 'CAF-shROCK2'"}],"mark":{"type":"line","stroke":"#0000ff","strokeWidth":2.5,"strokeDash":[1.5,1.2]},"encoding":{"x":{"field":"x","type":"quantitative"},"y":{"field":"y","type":"quantitative"}}},
   {"data":{"name":"nbf"},"mark":{"type":"line","stroke":"#000000","strokeWidth":1.2},"encoding":{"x":{"field":"x","type":"quantitative"},"y":{"field":"y","type":"quantitative"}}},
   {"data":{"values":[{"t":"2.7 ± 0.8 µm*^"}]},"mark":{"type":"text","align":"left","baseline":"middle","fontSize":14.5,"color":"#0000ff"},"encoding":{"x":{"datum":4.06,"type":"quantitative"},"y":{"datum":20,"type":"quantitative"},"text":{"field":"t"}}}
 ]},
 {"width":160,"height":152.5,"layer":[
   {"data":{"name":"nbf"},"mark":{"type":"area","fillOpacity":1},"encoding":{"x":{"field":"x","type":"quantitative","scale":{"domain":[0,9.85],"nice":false,"zero":false},"axis":{"values":[0,2,4,6,8],"tickCount":12,"labelOverlap":false,"title":"Deformation (µm)","titleFontSize":14.5,"labelFontSize":12.5,"ticks":false,"labelPadding":8.5,"titlePadding":10,"labelFlush":false}},"y":{"field":"y","type":"quantitative","scale":{"domain":[0,30],"nice":false},"axis":{"values":[0,5,10,15,20,25,30],"tickCount":12,"labelOverlap":false,"title":"% of Data","titleFontSize":15,"labelFontSize":12.5,"tickSize":4,"labelPadding":2.7,"titlePadding":4,"labelFlush":false}},"fill":{"datum":"NBF-EV","type":"nominal","scale":{"domain":["NBF-EV","CAF-EV","CAF-shSN1"],"range":["#a8a8a8","#ff0000","#0000ff"]},"legend":{"orient":"none","legendX":87,"legendY":4.6,"title":null,"labelFontSize":9.5,"labelColor":"#222222","symbolType":"square","symbolSize":36,"symbolStrokeWidth":1,"symbolOpacity":1,"rowPadding":0.5,"labelOffset":1.5,"padding":0,"encode":{"symbols":{"update":{"stroke":{"signal":"datum.value === 'NBF-EV' ? '#000000' : datum.value === 'CAF-EV' ? '#ff0000' : '#0000ff'"},"fillOpacity":{"value":1}}}}}}}},
   {"data":{"name":"caf"},"mark":{"type":"area","fillOpacity":0.9},"encoding":{"x":{"field":"x","type":"quantitative"},"y":{"field":"y","type":"quantitative"},"fill":{"datum":"CAF-EV","type":"nominal"}}},
   {"data":{"name":"caf"},"mark":{"type":"line","stroke":"#ff0000","strokeWidth":2.5,"strokeDash":[1.5,1.2]},"encoding":{"x":{"field":"x","type":"quantitative"},"y":{"field":"y","type":"quantitative"}}},
   {"data":{"name":"var"},"transform":[{"filter":"datum.n === 'CAF-shSN1'"}],"mark":{"type":"area","fillOpacity":0.75},"encoding":{"x":{"field":"x","type":"quantitative"},"y":{"field":"y","type":"quantitative"},"fill":{"datum":"CAF-shSN1","type":"nominal"}}},
   {"data":{"name":"var"},"transform":[{"filter":"datum.n === 'CAF-shSN1'"}],"mark":{"type":"line","stroke":"#0000ff","strokeWidth":2.5,"strokeDash":[1.5,1.2]},"encoding":{"x":{"field":"x","type":"quantitative"},"y":{"field":"y","type":"quantitative"}}},
   {"data":{"name":"nbf"},"mark":{"type":"line","stroke":"#000000","strokeWidth":1.2},"encoding":{"x":{"field":"x","type":"quantitative"},"y":{"field":"y","type":"quantitative"}}},
   {"data":{"values":[{"t":"2.5 ± 0.7 µm*^"}]},"mark":{"type":"text","align":"left","baseline":"middle","fontSize":14.5,"color":"#0000ff"},"encoding":{"x":{"datum":4.92,"type":"quantitative"},"y":{"datum":18.9,"type":"quantitative"},"text":{"field":"t"}}}
 ]},
 {"width":160,"height":152.5,"layer":[
   {"data":{"name":"nbf"},"mark":{"type":"area","fillOpacity":1},"encoding":{"x":{"field":"x","type":"quantitative","scale":{"domain":[0,9.85],"nice":false,"zero":false},"axis":{"values":[0,2,4,6,8],"tickCount":12,"labelOverlap":false,"title":"Deformation (µm)","titleFontSize":14.5,"labelFontSize":12.5,"ticks":false,"labelPadding":8.5,"titlePadding":10,"labelFlush":false}},"y":{"field":"y","type":"quantitative","scale":{"domain":[0,30],"nice":false},"axis":{"values":[0,5,10,15,20,25,30],"tickCount":12,"labelOverlap":false,"title":"% of Data","titleFontSize":15,"labelFontSize":12.5,"tickSize":4,"labelPadding":2.7,"titlePadding":4,"labelFlush":false}},"fill":{"datum":"NBF-EV","type":"nominal","scale":{"domain":["NBF-EV","CAF-EV","CAF-shYAP(A)"],"range":["#a8a8a8","#ff0000","#0000ff"]},"legend":{"orient":"none","legendX":82,"legendY":4.6,"title":null,"labelFontSize":9.5,"labelColor":"#222222","symbolType":"square","symbolSize":36,"symbolStrokeWidth":1,"symbolOpacity":1,"rowPadding":0.5,"labelOffset":1.5,"padding":0,"encode":{"symbols":{"update":{"stroke":{"signal":"datum.value === 'NBF-EV' ? '#000000' : datum.value === 'CAF-EV' ? '#ff0000' : '#0000ff'"},"fillOpacity":{"value":1}}}}}}}},
   {"data":{"name":"caf"},"mark":{"type":"area","fillOpacity":0.9},"encoding":{"x":{"field":"x","type":"quantitative"},"y":{"field":"y","type":"quantitative"},"fill":{"datum":"CAF-EV","type":"nominal"}}},
   {"data":{"name":"caf"},"mark":{"type":"line","stroke":"#ff0000","strokeWidth":2.5,"strokeDash":[1.5,1.2]},"encoding":{"x":{"field":"x","type":"quantitative"},"y":{"field":"y","type":"quantitative"}}},
   {"data":{"name":"var"},"transform":[{"filter":"datum.n === 'CAF-shYAP(A)'"}],"mark":{"type":"area","fillOpacity":0.75},"encoding":{"x":{"field":"x","type":"quantitative"},"y":{"field":"y","type":"quantitative"},"fill":{"datum":"CAF-shYAP(A)","type":"nominal"}}},
   {"data":{"name":"var"},"transform":[{"filter":"datum.n === 'CAF-shYAP(A)'"}],"mark":{"type":"line","stroke":"#0000ff","strokeWidth":2.5,"strokeDash":[1.5,1.2]},"encoding":{"x":{"field":"x","type":"quantitative"},"y":{"field":"y","type":"quantitative"}}},
   {"data":{"name":"nbf"},"mark":{"type":"line","stroke":"#000000","strokeWidth":1.2},"encoding":{"x":{"field":"x","type":"quantitative"},"y":{"field":"y","type":"quantitative"}}},
   {"data":{"values":[{"t":"2.1 ± 0.8 µm*^"}]},"mark":{"type":"text","align":"left","baseline":"middle","fontSize":14.5,"color":"#0000ff"},"encoding":{"x":{"datum":4.66,"type":"quantitative"},"y":{"datum":18.9,"type":"quantitative"},"text":{"field":"t"}}}
 ]},
 {"width":160,"height":152.5,"layer":[
   {"data":{"name":"nbf"},"mark":{"type":"area","fillOpacity":1},"encoding":{"x":{"field":"x","type":"quantitative","scale":{"domain":[0,9.85],"nice":false,"zero":false},"axis":{"values":[0,2,4,6,8],"tickCount":12,"labelOverlap":false,"title":"Deformation (µm)","titleFontSize":14.5,"labelFontSize":12.5,"ticks":false,"labelPadding":8.5,"titlePadding":10,"labelFlush":false}},"y":{"field":"y","type":"quantitative","scale":{"domain":[0,30],"nice":false},"axis":{"values":[0,5,10,15,20,25,30],"tickCount":12,"labelOverlap":false,"title":"% of Data","titleFontSize":15,"labelFontSize":12.5,"tickSize":4,"labelPadding":2.7,"titlePadding":4,"labelFlush":false}},"fill":{"datum":"NBF-EV","type":"nominal","scale":{"domain":["NBF-EV","CAF-EV","CAF-shYAP(B)"],"range":["#a8a8a8","#ff0000","#0000ff"]},"legend":{"orient":"none","legendX":78,"legendY":4.6,"title":null,"labelFontSize":9.5,"labelColor":"#222222","symbolType":"square","symbolSize":36,"symbolStrokeWidth":1,"symbolOpacity":1,"rowPadding":0.5,"labelOffset":1.5,"padding":0,"encode":{"symbols":{"update":{"stroke":{"signal":"datum.value === 'NBF-EV' ? '#000000' : datum.value === 'CAF-EV' ? '#ff0000' : '#0000ff'"},"fillOpacity":{"value":1}}}}}}}},
   {"data":{"name":"caf"},"mark":{"type":"area","fillOpacity":0.9},"encoding":{"x":{"field":"x","type":"quantitative"},"y":{"field":"y","type":"quantitative"},"fill":{"datum":"CAF-EV","type":"nominal"}}},
   {"data":{"name":"caf"},"mark":{"type":"line","stroke":"#ff0000","strokeWidth":2.5,"strokeDash":[1.5,1.2]},"encoding":{"x":{"field":"x","type":"quantitative"},"y":{"field":"y","type":"quantitative"}}},
   {"data":{"name":"var"},"transform":[{"filter":"datum.n === 'CAF-shYAP(B)'"}],"mark":{"type":"area","fillOpacity":0.75},"encoding":{"x":{"field":"x","type":"quantitative"},"y":{"field":"y","type":"quantitative"},"fill":{"datum":"CAF-shYAP(B)","type":"nominal"}}},
   {"data":{"name":"var"},"transform":[{"filter":"datum.n === 'CAF-shYAP(B)'"}],"mark":{"type":"line","stroke":"#0000ff","strokeWidth":2.5,"strokeDash":[1.5,1.2]},"encoding":{"x":{"field":"x","type":"quantitative"},"y":{"field":"y","type":"quantitative"}}},
   {"data":{"name":"nbf"},"mark":{"type":"line","stroke":"#000000","strokeWidth":1.2},"encoding":{"x":{"field":"x","type":"quantitative"},"y":{"field":"y","type":"quantitative"}}},
   {"data":{"values":[{"t":"1.6 ± 0.6 µm*^"}]},"mark":{"type":"text","align":"left","baseline":"middle","fontSize":14.5,"color":"#0000ff"},"encoding":{"x":{"datum":4.08,"type":"quantitative"},"y":{"datum":18.9,"type":"quantitative"},"text":{"field":"t"}}}
 ]}
]
}
